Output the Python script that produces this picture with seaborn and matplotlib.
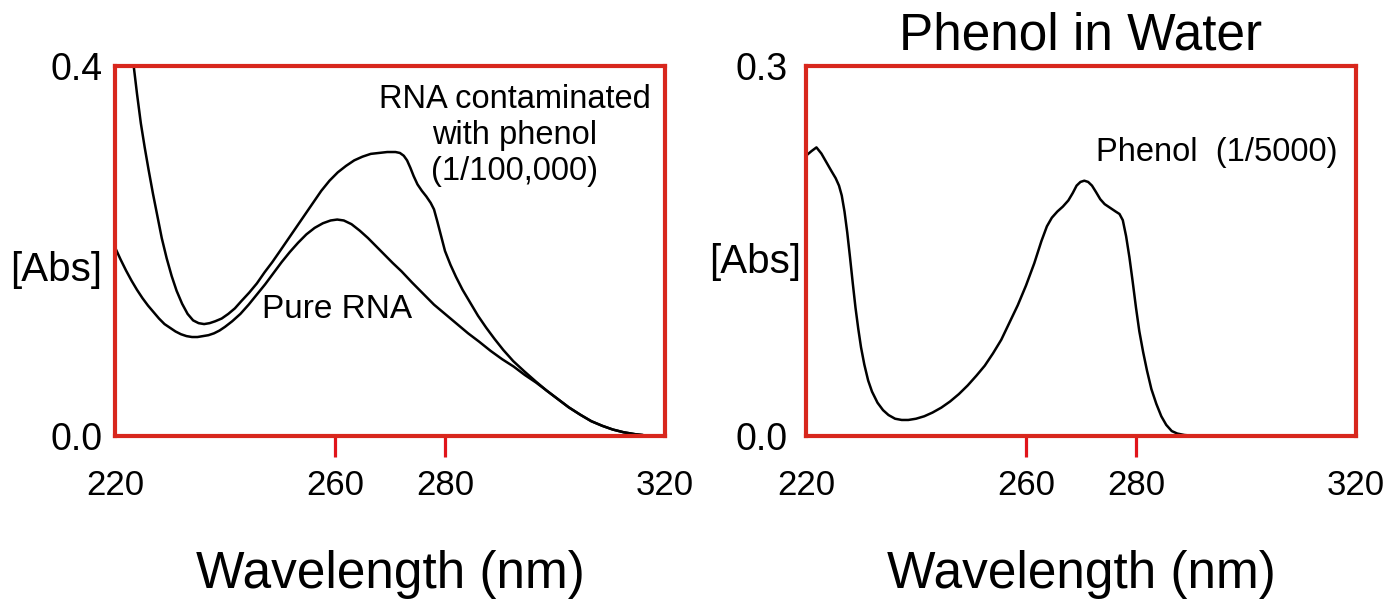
import matplotlib
matplotlib.use("Agg")
import matplotlib.pyplot as plt
import numpy as np
import pandas as pd
import seaborn as sns

# Absorbance spectra (wavelength in nm, absorbance)
contam_wl = [223.4, 224.0, 224.7, 225.4, 226.1, 226.9, 227.7, 228.5, 229.4, 230.3,
             231.2, 232.2, 233.2, 234.2, 235.2, 236.2, 237.2, 238.2, 239.4, 240.6,
             241.8, 243.0, 244.4, 245.8, 247.2, 248.6, 250.0, 251.5, 253.0, 254.5,
             256.0, 257.5, 259.0, 260.5, 262.0, 263.5, 265.0, 266.5, 268.0, 269.5,
             271.0, 271.8, 272.5, 273.1, 273.7, 274.3, 275.0, 275.8, 276.6, 277.4,
             278.0, 278.6, 279.3, 280.0, 281.0, 282.0, 283.2, 284.5, 286.0, 287.5,
             289.0, 290.6, 292.4, 294.4, 296.5, 298.5, 300.5, 302.5, 304.6, 306.6,
             308.6, 310.5, 312.5, 314.5, 316.0]
contam_abs = [0.400, 0.370, 0.338, 0.312, 0.288, 0.262, 0.238, 0.214, 0.192, 0.173,
              0.157, 0.143, 0.132, 0.125, 0.122, 0.121, 0.122, 0.124, 0.127, 0.132,
              0.138, 0.146, 0.155, 0.165, 0.177, 0.188, 0.200, 0.213, 0.226, 0.239,
              0.252, 0.265, 0.276, 0.285, 0.292, 0.298, 0.302, 0.305, 0.306, 0.307,
              0.307, 0.306, 0.303, 0.298, 0.290, 0.281, 0.272, 0.265, 0.259, 0.252,
              0.245, 0.232, 0.216, 0.200, 0.185, 0.172, 0.158, 0.145, 0.130, 0.117,
              0.105, 0.093, 0.081, 0.070, 0.059, 0.049, 0.040, 0.031, 0.023, 0.016,
              0.011, 0.007, 0.004, 0.002, 0.001]

pure_wl = [220.0, 221.0, 222.0, 223.0, 224.0, 225.0, 226.0, 227.0, 228.0, 229.0,
           230.0, 231.0, 232.0, 233.0, 234.0, 235.0, 236.0, 237.0, 238.0, 239.0,
           240.0, 241.3, 242.8, 244.3, 245.8, 247.3, 248.8, 250.3, 251.8, 253.3,
           254.8, 256.3, 257.8, 259.2, 260.4, 261.6, 263.0, 264.5, 266.0, 267.5,
           269.0, 270.5, 272.1, 274.0, 276.0, 278.0, 280.2, 282.2, 284.2, 286.2,
           288.3, 290.4, 292.5, 294.5, 296.5, 298.5, 300.5, 302.5, 304.6, 306.6,
           308.6, 310.5, 312.5, 314.5, 316.0]
pure_abs = [0.204, 0.191, 0.179, 0.168, 0.158, 0.149, 0.141, 0.134, 0.127, 0.121,
            0.117, 0.113, 0.110, 0.108, 0.107, 0.107, 0.108, 0.109, 0.111, 0.114,
            0.118, 0.124, 0.132, 0.142, 0.153, 0.164, 0.176, 0.188, 0.199, 0.209,
            0.218, 0.225, 0.230, 0.233, 0.234, 0.233, 0.229, 0.222, 0.214, 0.205,
            0.196, 0.187, 0.178, 0.166, 0.154, 0.142, 0.131, 0.121, 0.111, 0.102,
            0.092, 0.083, 0.075, 0.066, 0.058, 0.049, 0.040, 0.031, 0.023, 0.016,
            0.011, 0.007, 0.004, 0.002, 0.001]

phenol_wl = [220.2, 221.0, 221.9, 222.8, 223.7, 224.6, 225.4, 226.0, 226.5, 227.0,
             227.5, 228.0, 228.5, 229.0, 229.5, 230.0, 230.6, 231.3, 232.0, 233.0,
             234.0, 235.0, 236.2, 237.4, 238.6, 240.0, 241.5, 243.0, 244.6, 246.2,
             247.8, 249.4, 251.0, 252.5, 254.0, 255.5, 257.0, 258.5, 260.0, 261.5,
             262.8, 263.8, 264.7, 265.7, 266.7, 267.7, 268.5, 269.2, 269.9, 270.6,
             271.3, 272.0, 272.7, 273.5, 274.3, 275.3, 276.3, 277.0, 277.6, 278.2,
             278.8, 279.4, 280.0, 280.6, 281.3, 282.0, 282.8, 283.7, 284.6, 285.5,
             286.5, 287.5, 288.8, 290.9]
phenol_abs = [0.228, 0.231, 0.234, 0.229, 0.222, 0.215, 0.209, 0.203, 0.195, 0.182,
              0.165, 0.145, 0.124, 0.104, 0.087, 0.072, 0.058, 0.045, 0.036, 0.027,
              0.021, 0.017, 0.014, 0.013, 0.013, 0.014, 0.016, 0.019, 0.023, 0.028,
              0.034, 0.041, 0.049, 0.057, 0.067, 0.078, 0.092, 0.106, 0.122, 0.140,
              0.158, 0.170, 0.177, 0.182, 0.186, 0.191, 0.197, 0.203, 0.206, 0.207,
              0.206, 0.203, 0.198, 0.192, 0.188, 0.185, 0.182, 0.180, 0.175, 0.162,
              0.145, 0.125, 0.104, 0.085, 0.068, 0.053, 0.038, 0.026, 0.016, 0.009,
              0.004, 0.002, 0.0008, 0.0]

x_ticks = [220, 260, 280, 320]
x_tick_labels = ["220", "260", "280", "320"]
left_y_ticks = [0.0, 0.4]
right_y_ticks = [0.0, 0.3]

sns.set_theme(style="white")
plt.rcParams["font.family"] = ["Liberation Sans", "DejaVu Sans"]

FRAME_RED = "#d8271d"
W, H = 1394, 599
fig = plt.figure(figsize=(W / 100, H / 100), dpi=100)
ax_l = fig.add_axes([115 / W, (H - 436) / H, 550 / W, 370 / H])
ax_r = fig.add_axes([806 / W, (H - 436) / H, 550 / W, 370 / H])

df_contam = pd.DataFrame({"wl": contam_wl, "abs": contam_abs})
df_pure = pd.DataFrame({"wl": pure_wl, "abs": pure_abs})
df_phenol = pd.DataFrame({"wl": phenol_wl, "abs": phenol_abs})

line_kw = dict(color="black", linewidth=1.8, estimator=None, legend=False,
               solid_joinstyle="round", solid_capstyle="round")
sns.lineplot(data=df_contam, x="wl", y="abs", ax=ax_l, **line_kw)
sns.lineplot(data=df_pure, x="wl", y="abs", ax=ax_l, **line_kw)
sns.lineplot(data=df_phenol, x="wl", y="abs", ax=ax_r, **line_kw)


def style_axes(ax, ymax, yticks, ypad, ylabel_xy):
    ax.set_xlim(220, 320)
    ax.set_ylim(0, ymax)
    for sp in ax.spines.values():
        sp.set_visible(True)
        sp.set_color(FRAME_RED)
        sp.set_linewidth(3.0)
    ax.set_xticks(x_ticks)
    ax.set_xticklabels(x_tick_labels)
    ax.set_yticks(yticks)
    ax.set_yticklabels([f"{v:.1f}" for v in yticks])
    ax.tick_params(axis="x", bottom=True, length=15, width=2.3, color="#e0141a",
                   labelsize=25, pad=9, labelcolor="black")
    ax.tick_params(axis="y", left=True, length=0, labelsize=27, pad=ypad,
                   labelcolor="black")
    # only the interior wavelengths carry tick marks
    for tick in ax.xaxis.get_major_ticks():
        if tick.get_loc() in (220, 320):
            tick.tick1line.set_visible(False)
    ax.set_xlabel("Wavelength (nm)", fontsize=37, color="black")
    ax.xaxis.set_label_coords(0.5, -0.375)
    ax.xaxis.label.set_verticalalignment("center")
    ax.set_ylabel("[Abs]", fontsize=29, rotation=0, color="black")
    ax.yaxis.set_label_coords(*ylabel_xy)
    ax.yaxis.label.set_verticalalignment("center")
    ax.yaxis.label.set_horizontalalignment("center")
    ax.grid(False)


style_axes(ax_l, 0.4, left_y_ticks, 9, (-0.107, 0.449))
style_axes(ax_r, 0.3, right_y_ticks, 13, (-0.093, 0.470))

ax_l.text(292.7, 0.325, "RNA contaminated\nwith phenol\n(1/100,000)",
          ha="center", va="center", fontsize=23.5, linespacing=1.22, color="black")
ax_l.text(260.3, 0.137, "Pure RNA", ha="center", va="center", fontsize=24,
          color="black")
ax_r.text(294.7, 0.2295, "Phenol  (1/5000)", ha="center", va="center",
          fontsize=23.5, color="black")
ax_r.text(0.5, 400 / 370, "Phenol in Water", transform=ax_r.transAxes,
          ha="center", va="center", fontsize=37, color="black")

fig.savefig("out.png", dpi=100)
